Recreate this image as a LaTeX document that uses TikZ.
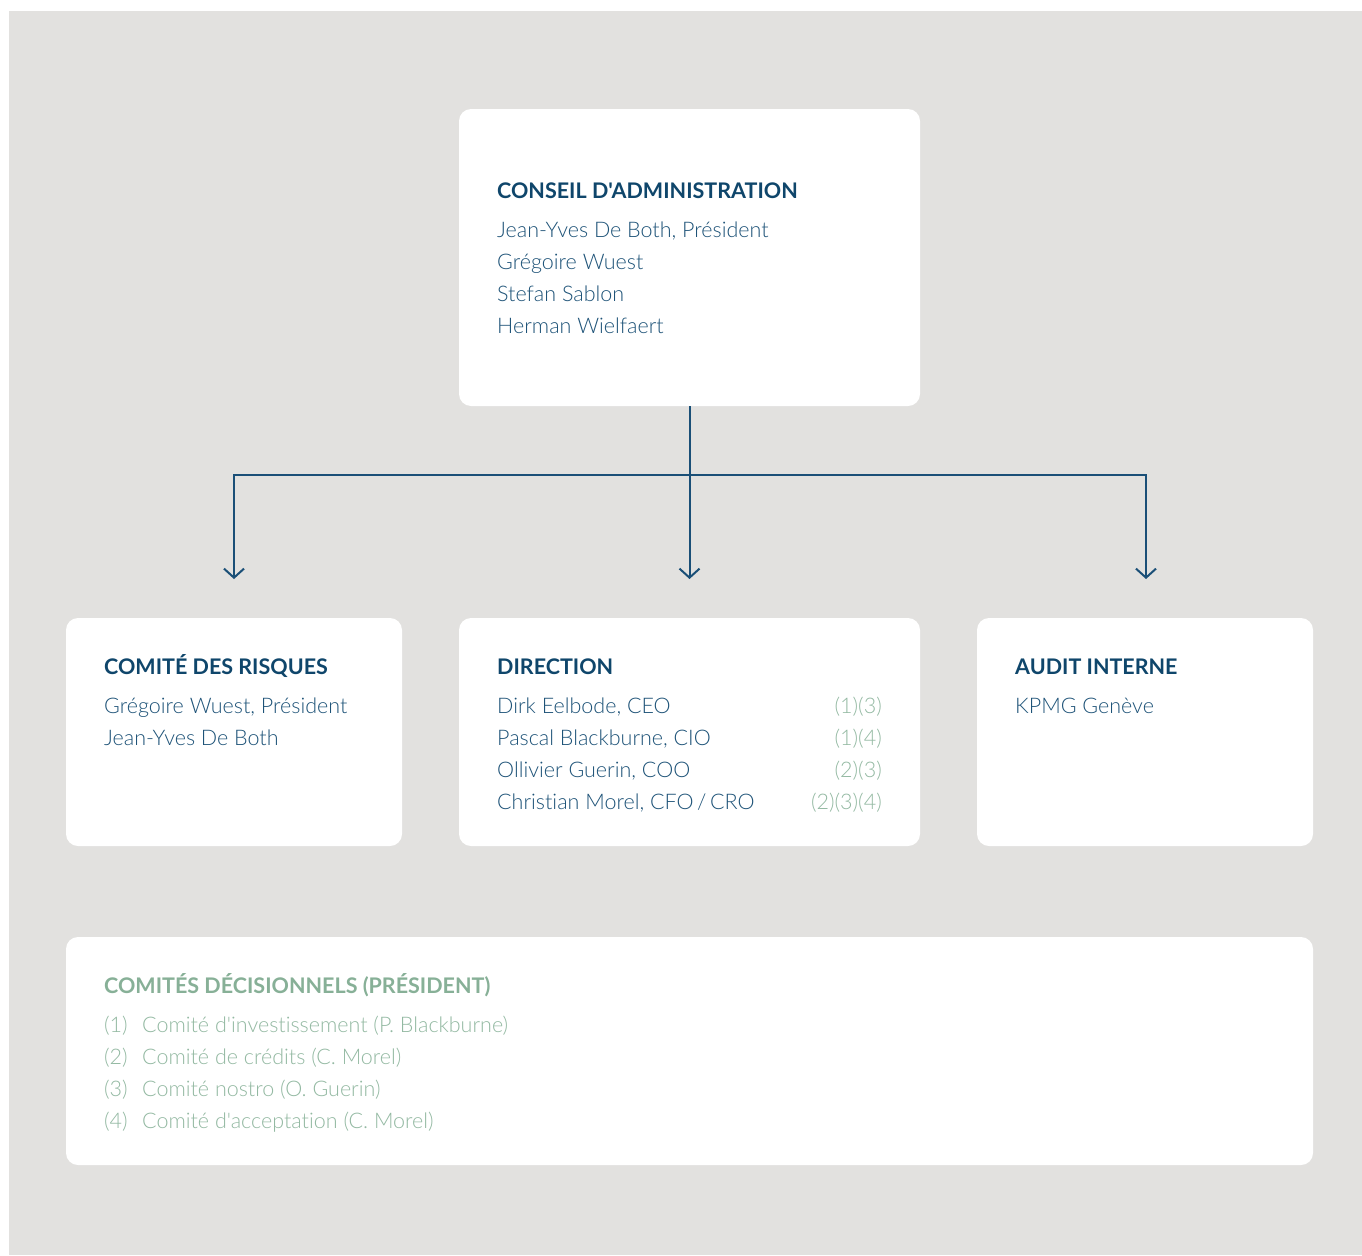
\documentclass[tikz,border=0pt]{standalone}
\usepackage{fontspec}
\setmainfont{Lato}[UprightFont={* Light},BoldFont={* Bold},Ligatures={TeXOff,NoCommon}]
\usetikzlibrary{arrows.meta}
\definecolor{bggray}{HTML}{E2E1DF}
\definecolor{headblue}{HTML}{0F466B}
\definecolor{bodyblue}{HTML}{1E5378}
\definecolor{numgreen}{HTML}{93B9A2}
\definecolor{headgreen}{HTML}{87B097}
\definecolor{linkblue}{HTML}{1A4F77}
\tikzset{
  panel/.style={fill=white,rounded corners=12pt,inner sep=0pt,outer sep=0pt,anchor=north west},
  headtxt/.style={anchor=base west,inner sep=0pt,text=headblue,font=\fontsize{21.5}{25}\selectfont\bfseries},
  bodytxt/.style={anchor=base west,inner sep=0pt,text=bodyblue,font=\fontsize{21.5}{25}\selectfont},
  numtxt/.style={anchor=base east,inner sep=0pt,text=numgreen,font=\fontsize{21.5}{25}\selectfont},
  gheadtxt/.style={anchor=base west,inner sep=0pt,text=headgreen,font=\fontsize{21.5}{25}\selectfont\bfseries},
  gbodytxt/.style={anchor=base west,inner sep=0pt,text=numgreen,font=\fontsize{21.5}{25}\selectfont},
  link/.style={draw=linkblue,line width=2pt},
  linkarrow/.style={link,-{Straight Barb[length=9pt,width=20pt,line width=2pt]}}
}
\begin{document}
\begin{tikzpicture}[x=1pt,y=-1pt]
\useasboundingbox (0,0) rectangle (1362,1255);
\fill[bggray] (9,11) rectangle (1362,1255);
% panels
\node[panel,minimum width=461pt,minimum height=297pt] (conseil) at (459,109) {};
\node[panel,minimum width=336pt,minimum height=228pt] (risques) at (66,618) {};
\node[panel,minimum width=461pt,minimum height=228pt] (direction) at (459,618) {};
\node[panel,minimum width=336pt,minimum height=228pt] (audit) at (977,618) {};
\node[panel,minimum width=1247pt,minimum height=228pt] (comites) at (66,937) {};
% connectors
\coordinate (j) at (conseil.south |- 0,475);
\coordinate (aL) at (234,579);
\coordinate (aC) at (conseil.south |- 0,579);
\coordinate (aR) at (1146,579);
\draw[linkarrow] (conseil.south) -- (aC);
\draw[linkarrow] (j) -| (aL);
\draw[linkarrow] (j) -| (aR);
% conseil
\node[headtxt] (t1) at (497,198) {CONSEIL D'ADMINISTRATION};
\node[bodytxt] (t2) at (497,237) {Jean-Yves De Both, Président};
\node[bodytxt] (t3) at (497,269) {Grégoire Wuest};
\node[bodytxt] (t4) at (497,301) {Stefan Sablon};
\node[bodytxt] (t5) at (497,333) {Herman Wielfaert};
% risques
\node[headtxt] (r1) at (104,674) {COMITÉ DES RISQUES};
\node[bodytxt] (r2) at (104,713) {Grégoire Wuest, Président};
\node[bodytxt] (r3) at (104,745) {Jean-Yves De Both};
% direction
\node[headtxt] (d1) at (497,674) {DIRECTION};
\node[bodytxt] (d2) at (497,713) {Dirk Eelbode, CEO};
\node[bodytxt] (d3) at (497,745) {Pascal Blackburne, CIO};
\node[bodytxt] (d4) at (497,777) {Ollivier Guerin, COO};
\node[bodytxt] (d5) at (497,809) {Christian Morel, CFO\,/\,CRO};
\node[numtxt] (n2) at (882,713) {(1)(3)};
\node[numtxt] (n3) at (882,745) {(1)(4)};
\node[numtxt] (n4) at (882,777) {(2)(3)};
\node[numtxt] (n5) at (882,809) {(2)(3)(4)};
% audit
\node[headtxt] (a1) at (1015,674) {AUDIT INTERNE};
\node[bodytxt] (a2) at (1015,713) {KPMG Genève};
% comites
\node[gheadtxt] (c1) at (104,993) {COMITÉS DÉCISIONNELS (PRÉSIDENT)};
\node[gbodytxt] (c2n) at (104,1032) {(1)};
\node[gbodytxt] (c2) at (142,1032) {Comité d'investissement (P. Blackburne)};
\node[gbodytxt] (c3n) at (104,1064) {(2)};
\node[gbodytxt] (c3) at (142,1064) {Comité de crédits (C. Morel)};
\node[gbodytxt] (c4n) at (104,1096) {(3)};
\node[gbodytxt] (c4) at (142,1096) {Comité nostro (O. Guerin)};
\node[gbodytxt] (c5n) at (104,1128) {(4)};
\node[gbodytxt] (c5) at (142,1128) {Comité d'acceptation (C. Morel)};
\end{tikzpicture}
\end{document}
